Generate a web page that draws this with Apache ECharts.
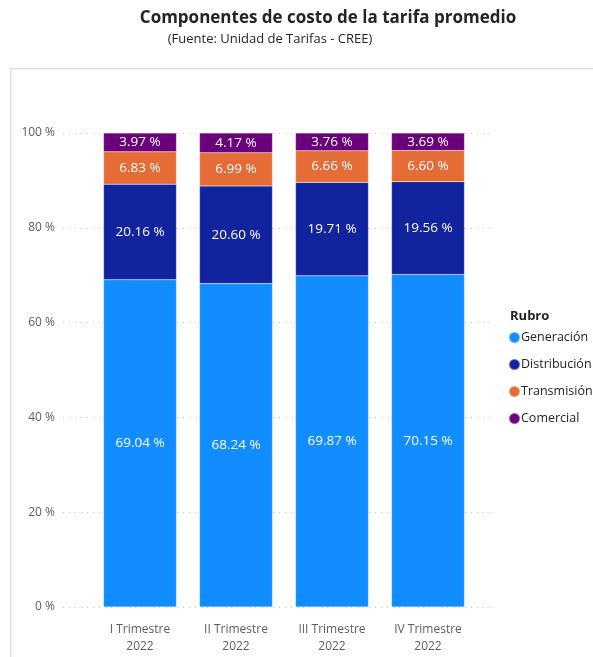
<!DOCTYPE html>
<html>
<head>
<meta charset="utf-8">
<script src="https://cdn.jsdelivr.net/npm/echarts@6/dist/echarts.min.js"></script>
<style>
html,body{margin:0;padding:0;background:#fff;}
#c{width:593px;height:657px;}
</style>
</head>
<body>
<div id="c"></div>
<script>
const categories = ['I Trimestre\n2022', 'II Trimestre\n2022', 'III Trimestre\n2022', 'IV Trimestre\n2022'];
const generacion = [69.04, 68.24, 69.87, 70.15];
const distribucion = [20.16, 20.60, 19.71, 19.56];
const transmision = [6.83, 6.99, 6.66, 6.60];
const comercial = [3.97, 4.17, 3.76, 3.69];
const yTicks = [0, 20, 40, 60, 80, 100];

const FONT = "'Segoe UI', 'Open Sans', 'Noto Sans', sans-serif";
const chart = echarts.init(document.getElementById('c'), null, {renderer: 'canvas'});

function mk(name, data, color) {
  return {
    name: name, type: 'bar', stack: 'total', data: data, barWidth: 73,
    xAxisIndex: 0, yAxisIndex: 0,
    itemStyle: {color: color, borderColor: 'rgba(255,255,255,0.35)', borderWidth: 0.5},
    label: {show: true, position: 'inside', color: '#fff', fontFamily: FONT, fontSize: 13.5,
      formatter: p => p.value.toFixed(2) + ' %'},
    emphasis: {disabled: true}
  };
}

chart.setOption({
  animation: false,
  textStyle: {fontFamily: FONT},
  graphic: [{
    type: 'rect', left: 10, top: 68, z: -10,
    shape: {width: 600, height: 600},
    style: {fill: '#fff', stroke: '#E1E1E1', lineWidth: 1.5}
  }],
  title: [
    {text: 'Componentes de costo de la tarifa promedio', left: 323, top: 5, textAlign: 'center',
      textStyle: {fontFamily: FONT, fontSize: 17, fontWeight: 'bold', color: '#252423'}},
    {text: '(Fuente: Unidad de Tarifas - CREE)', left: 265, top: 28, textAlign: 'center',
      textStyle: {fontFamily: FONT, fontSize: 13, fontWeight: 'normal', color: '#252423'}},
    {text: 'Rubro', left: 505, top: 305,
      textStyle: {fontFamily: FONT, fontSize: 13, fontWeight: 'bold', color: '#252423'}}
  ],
  legend: {
    orient: 'vertical', left: 503, top: 326, icon: 'circle', itemWidth: 11, itemHeight: 11,
    itemGap: 14, selectedMode: false,
    textStyle: {fontFamily: FONT, fontSize: 12.5, color: '#252423', padding: [0, 0, 0, -4]}
  },
  grid: [
    {left: 92, right: 117, top: 133, bottom: 50},
    {left: 63, right: 103, top: 133, bottom: 50}
  ],
  xAxis: [{
    type: 'category', data: categories, gridIndex: 0,
    axisLine: {show: false}, axisTick: {show: false},
    axisLabel: {color: '#605E5C', fontFamily: FONT, fontSize: 12, lineHeight: 17, margin: 14}
  }, {
    type: 'category', data: categories, gridIndex: 1, show: false
  }],
  yAxis: [{
    type: 'value', min: 0, max: 100, interval: 20, gridIndex: 0,
    axisLabel: {color: '#605E5C', fontFamily: FONT, fontSize: 12, margin: 37,
      formatter: v => yTicks.includes(v) ? v + ' %' : ''},
    splitLine: {show: false},
    axisLine: {show: false}, axisTick: {show: false}
  }, {
    type: 'value', min: 0, max: 100, interval: 20, gridIndex: 1,
    axisLabel: {show: false}, axisLine: {show: false}, axisTick: {show: false},
    splitLine: {show: true, lineStyle: {color: '#C8C6C4', type: [1, 5], width: 1}}
  }],
  series: [
    mk('Generación', generacion, '#118DFF'),
    mk('Distribución', distribucion, '#12239E'),
    mk('Transmisión', transmision, '#E66C37'),
    mk('Comercial', comercial, '#6B007B')
  ]
});
</script>
</body>
</html>
